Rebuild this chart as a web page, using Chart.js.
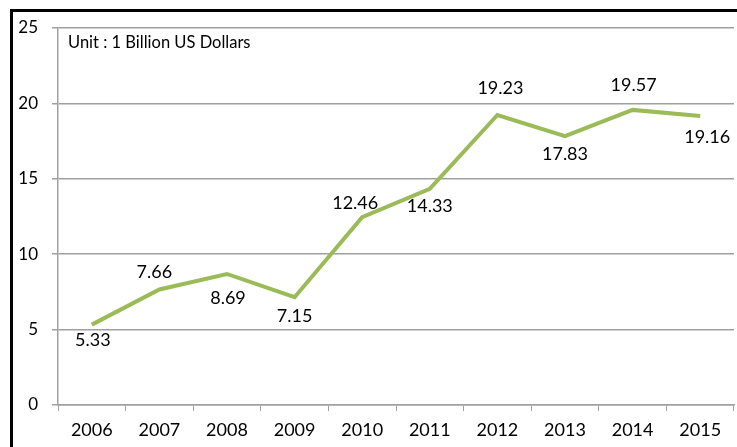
<!DOCTYPE html>
<html>
<head>
<meta charset="utf-8">
<script src="https://cdn.jsdelivr.net/npm/chart.js@4.4.0/dist/chart.umd.min.js"></script>
<style>
  html, body { margin: 0; padding: 0; background: #fff; }
  canvas { display: block; }
</style>
</head>
<body>
<canvas id="chart" width="737" height="447"></canvas>
<script>
// chart data
const years = ['2006', '2007', '2008', '2009', '2010', '2011', '2012', '2013', '2014', '2015'];
const values = [5.33, 7.66, 8.69, 7.15, 12.46, 14.33, 19.23, 17.83, 19.57, 19.16];
const unitNote = 'Unit : 1 Billion US Dollars';

// where each value label sits relative to its point (px)
const labelShift = [
    [1, 16], [-5, -17], [1, 24], [0, 19], [-7, -14],
    [0, 17], [3, -27], [0, 18], [1, -25], [7, 21]
];

const FONT = 'Lato, "Open Sans", sans-serif';
const GRID = '#a0a0a0';
const TEXT = '#000';

// thick black frame on top and left, like the cropped original
const framePlugin = {
    id: 'frame',
    afterDraw(chart) {
        const ctx = chart.ctx;
        ctx.save();
        ctx.strokeStyle = '#000';
        ctx.lineWidth = 3;
        ctx.beginPath();
        ctx.moveTo(11.5, 447);
        ctx.lineTo(11.5, 10.5);
        ctx.lineTo(737, 10.5);
        ctx.stroke();
        ctx.restore();
    }
};

// value labels and unit note
const labelPlugin = {
    id: 'valueLabels',
    afterDatasetsDraw(chart) {
        const ctx = chart.ctx;
        const meta = chart.getDatasetMeta(0);
        ctx.save();
        ctx.fillStyle = TEXT;
        ctx.font = '18px ' + FONT;
        ctx.textAlign = 'center';
        ctx.textBaseline = 'middle';
        meta.data.forEach((pt, i) => {
            const s = labelShift[i];
            ctx.fillText(values[i].toFixed(2), pt.x + s[0], pt.y + s[1]);
        });
        ctx.font = '16.5px ' + FONT;
        ctx.textAlign = 'left';
        ctx.fillText(unitNote, chart.chartArea.left + 10, chart.chartArea.top + 15);
        ctx.restore();
    }
};

new Chart(document.getElementById('chart'), {
    type: 'line',
    data: {
        labels: years,
        datasets: [{
            data: values,
            borderColor: '#9bbb59',
            borderWidth: 4,
            pointRadius: 0,
            tension: 0,
            fill: false
        }]
    },
    options: {
        responsive: false,
        animation: false,
        layout: { padding: { top: 28, right: 3, left: 0, bottom: 0 } },
        plugins: {
            legend: { display: false },
            tooltip: { enabled: false }
        },
        scales: {
            x: {
                offset: true,
                grid: {
                    offset: true,
                    drawOnChartArea: false,
                    drawTicks: true,
                    tickLength: 6,
                    color: GRID
                },
                border: { color: GRID, width: 1.5 },
                ticks: {
                    color: TEXT,
                    font: { family: FONT, size: 18 },
                    padding: 8,
                    maxRotation: 0
                },
                afterFit(scale) { scale.height = 42; }
            },
            y: {
                min: 0,
                max: 25,
                grid: {
                    color: GRID,
                    lineWidth: 1.5,
                    tickLength: 6
                },
                border: { color: GRID, width: 1.5 },
                ticks: {
                    stepSize: 5,
                    color: TEXT,
                    font: { family: FONT, size: 17 },
                    padding: 14
                },
                afterFit(scale) { scale.width = 58; }
            }
        }
    },
    plugins: [framePlugin, labelPlugin]
});
</script>
</body>
</html>
